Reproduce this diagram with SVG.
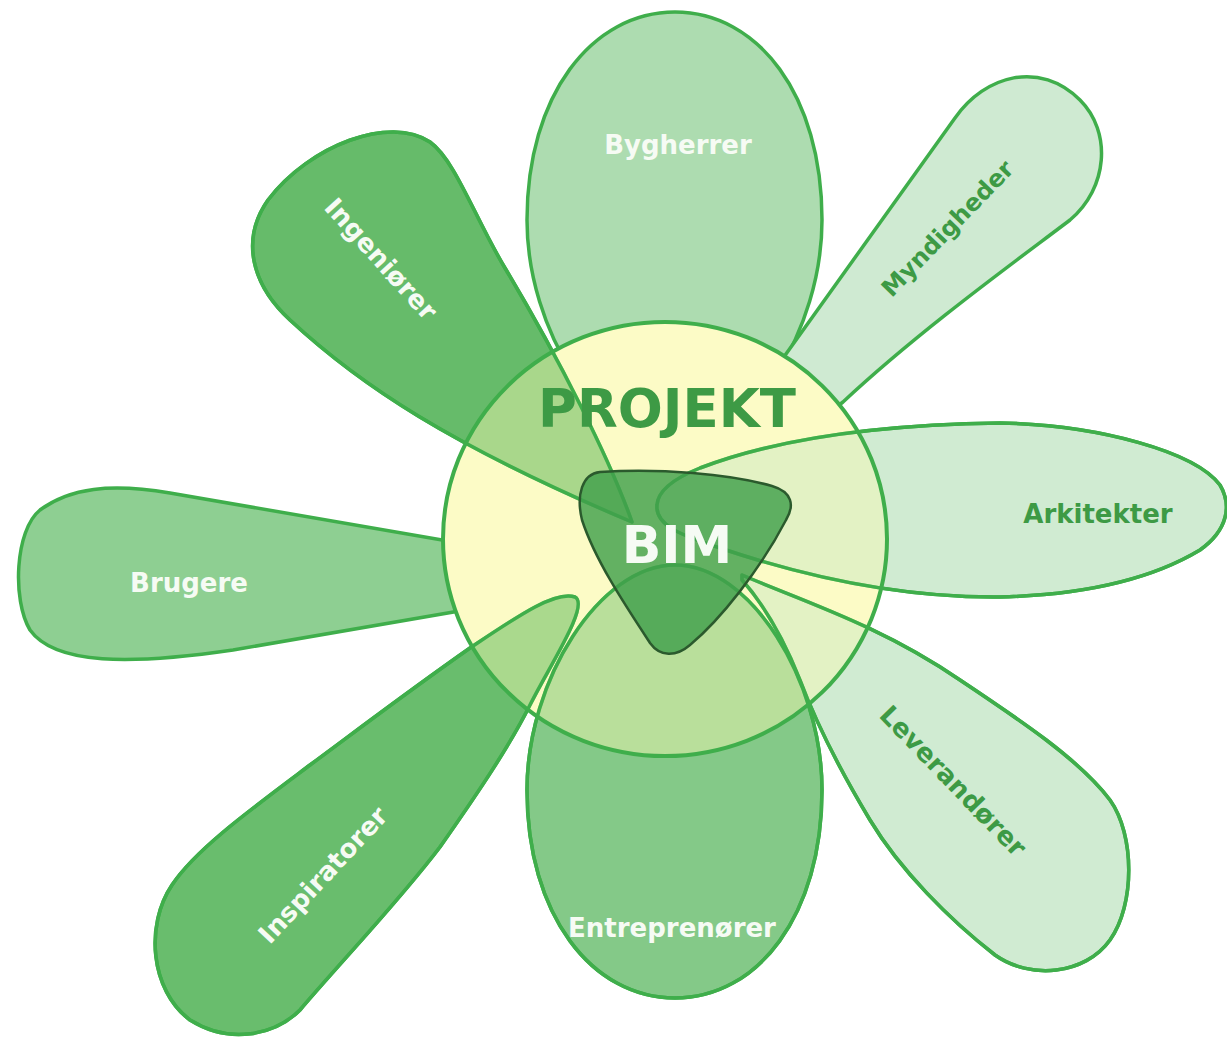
<svg xmlns="http://www.w3.org/2000/svg" xmlns:xlink="http://www.w3.org/1999/xlink" width="1227" height="1040" viewBox="0 0 1227 1040">
<style>
.edge{stroke:#3fae4b;stroke-width:3.5;stroke-linejoin:round}
.line{fill:none;stroke:#3fae4b;stroke-width:3.5;stroke-linejoin:round}
.lbl{font-family:"DejaVu Sans","Liberation Sans",sans-serif;font-weight:bold;font-size:26px;text-anchor:middle}
.w{fill:#f6fbf4}
.g{fill:#3d9a45}
</style>
<defs>
<path id="p-byg" d="M 675,445 C 600,445 527,330 527,220 C 527,95 592,12 675,12 C 758,12 822,95 822,220 C 822,330 750,445 675,445 Z"/>
<path id="p-myn" d="M 753,400 L 955,118 C 985,75 1040,60 1080,100 C 1112,132 1108,188 1070,220 C 1020,258 920,330 843,402 L 804,432 Z"/>
<path id="p-bru" d="M 500,550 L 170,493 C 110,483 70,488 40,510 C 15,530 12,600 30,630 C 55,665 130,665 233,650 L 500,604 Z"/>
<path id="p-ing" d="M 632,522 C 610,460 560,360 505,268 C 475,218 455,160 430,142 C 390,115 310,145 268,200 C 240,240 252,285 290,320 C 360,385 450,445 632,522 Z"/>
<path id="p-ins" d="M 575,597 C 555,590 515,618 470,648 C 410,690 360,728 310,765 C 250,810 195,850 172,885 C 145,925 150,990 190,1020 C 230,1045 275,1035 300,1010 C 340,963 400,900 440,847 C 480,790 510,745 530,705 C 550,665 590,605 575,597 Z"/>
<path id="p-ent" d="M 675,565 C 600,565 527,680 527,790 C 527,915 592,998 675,998 C 758,998 822,915 822,790 C 822,680 750,565 675,565 Z"/>
<path id="p-lev" d="M 742,575 C 800,600 880,625 960,680 C 1020,720 1080,760 1110,800 C 1135,835 1135,905 1110,940 C 1085,975 1030,980 995,955 C 950,920 900,870 870,820 C 840,770 815,720 800,680 C 780,630 760,600 742,580 Z"/>
<path id="p-ark" d="M 700,468 C 760,445 850,425 1000,423 C 1100,425 1195,452 1220,485 C 1232,505 1228,530 1200,550 C 1150,580 1080,595 1000,597 C 900,598 800,575 720,548 C 680,535 655,525 657,505 C 658,490 675,478 700,468 Z"/>
<ellipse id="p-circ" cx="665" cy="539" rx="222" ry="217"/>
</defs>
<rect width="1227" height="1040" fill="#ffffff"/>

<g id="node-bygherrer">
<use xlink:href="#p-byg" class="edge" fill="#addcb0"/>
<text class="lbl w" x="678" y="154">Bygherrer</text>
</g>
<g id="node-myndigheder">
<use xlink:href="#p-myn" class="edge" fill="#cfead2"/>
<text class="lbl g" style="font-size:24px" transform="translate(947,228) rotate(-46)" y="9">Myndigheder</text>
</g>
<g id="node-brugere">
<use xlink:href="#p-bru" class="edge" fill="#8ecf92"/>
<text class="lbl w" x="189" y="592">Brugere</text>
</g>

<g id="node-projekt">
<use xlink:href="#p-circ" fill="#fdfcd6"/>
</g>

<g id="node-ingeniorer">
<use xlink:href="#p-ing" class="edge" fill="#66bb6a"/>
<text class="lbl w" transform="translate(381,259) rotate(48)" y="9">Ingeniører</text>
</g>
<g id="node-inspiratorer">
<use xlink:href="#p-ins" class="edge" fill="#69bd6d"/>
<text class="lbl w" transform="translate(323,875) rotate(-47)" y="9">Inspiratorer</text>
</g>
<g id="node-entreprenorer">
<use xlink:href="#p-ent" class="edge" fill="#84c988"/>
<text class="lbl w" x="672" y="937">Entreprenører</text>
</g>
<g id="node-leverandorer">
<use xlink:href="#p-lev" class="edge" fill="#d0ebd2"/>
<text class="lbl g" transform="translate(953,781) rotate(46)" y="9">Leverandører</text>
</g>
<g id="node-arkitekter">
<use xlink:href="#p-ark" class="edge" fill="#d0ebd2"/>
<text class="lbl g" x="1098" y="523">Arkitekter</text>
</g>

<g id="projekt-overlay">
<use xlink:href="#p-circ" fill="#fbfab4" fill-opacity="0.45"/>
</g>

<g id="connectors">
<use xlink:href="#p-ing" class="line"/>
<use xlink:href="#p-ins" class="line"/>
<use xlink:href="#p-ent" class="line"/>
<use xlink:href="#p-lev" class="line"/>
<use xlink:href="#p-ark" class="line"/>
<use xlink:href="#p-circ" class="line" style="stroke-width:4"/>
</g>

<g id="projekt-label">
<text class="lbl g" style="font-size:53px" x="667" y="427">PROJEKT</text>
</g>

<g id="node-bim">
<path d="M 600,472 C 660,468 730,474 772,486 C 792,492 795,505 786,520 C 760,570 720,620 690,645 C 676,657 660,657 650,643 C 625,605 595,560 582,520 C 576,495 582,474 600,472 Z" fill="#41a04c" fill-opacity="0.82" stroke="#2b5a2d" stroke-width="2.5"/>
<text class="lbl w" style="font-size:52px" x="677" y="563">BIM</text>
</g>
</svg>
